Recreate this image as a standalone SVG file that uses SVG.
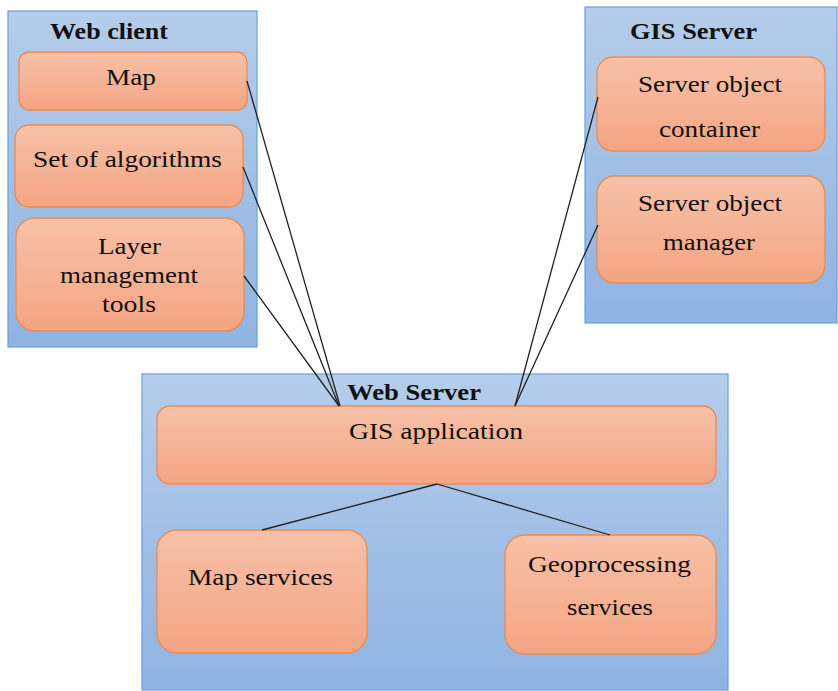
<svg xmlns="http://www.w3.org/2000/svg" width="838" height="691" viewBox="0 0 838 691">
<defs>
<linearGradient id="gb" x1="0" y1="0" x2="0" y2="1"><stop offset="0" stop-color="#b5cdea"/><stop offset="1" stop-color="#8fb3e2"/></linearGradient>
<linearGradient id="go" x1="0" y1="0" x2="0" y2="1"><stop offset="0" stop-color="#f7c1a8"/><stop offset="1" stop-color="#f4a583"/></linearGradient>
</defs>
<style>
.c{fill:url(#gb);stroke:#6d9edb;stroke-width:1.2}
.b{fill:url(#go);stroke:#ee8a4f;stroke-width:1.3}
text{font-family:"Liberation Serif","Times New Roman",serif;font-size:23px;fill:#111;text-anchor:middle}
.h{font-weight:bold}
.l{stroke:#222;stroke-width:1.3;fill:none}
</style>
<g id="web-client">
<rect class="c" x="8" y="11" width="249" height="336"/>
<text class="h" x="109" y="39" textLength="118" lengthAdjust="spacingAndGlyphs">Web client</text>
</g>
<g id="gis-server">
<rect class="c" x="585" y="7" width="252" height="316"/>
<text class="h" x="693.5" y="39" textLength="127" lengthAdjust="spacingAndGlyphs">GIS Server</text>
</g>
<g id="web-server">
<rect class="c" x="142" y="374" width="586" height="316"/>
<text class="h" x="414" y="400" textLength="134" lengthAdjust="spacingAndGlyphs">Web Server</text>
</g>
<g id="map">
<rect class="b" x="19" y="52" width="228" height="58" rx="10"/>
<text x="131" y="85" textLength="50" lengthAdjust="spacingAndGlyphs">Map</text>
</g>
<g id="set-of-algorithms">
<rect class="b" x="15" y="125" width="228" height="82" rx="14"/>
<text x="127.5" y="167" textLength="189" lengthAdjust="spacingAndGlyphs">Set of algorithms</text>
</g>
<g id="layer-management-tools">
<rect class="b" x="16" y="218" width="228" height="113" rx="19"/>
<text x="129.5" y="254" textLength="63" lengthAdjust="spacingAndGlyphs">Layer</text>
<text x="129" y="283" textLength="138" lengthAdjust="spacingAndGlyphs">management</text>
<text x="129" y="312" textLength="54" lengthAdjust="spacingAndGlyphs">tools</text>
</g>
<g id="server-object-container">
<rect class="b" x="597" y="57" width="228" height="94" rx="16"/>
<text x="710" y="92" textLength="144" lengthAdjust="spacingAndGlyphs">Server object</text>
<text x="709.5" y="137" textLength="101" lengthAdjust="spacingAndGlyphs">container</text>
</g>
<g id="server-object-manager">
<rect class="b" x="597" y="176" width="228" height="107" rx="18"/>
<text x="710" y="211" textLength="144" lengthAdjust="spacingAndGlyphs">Server object</text>
<text x="709" y="250" textLength="92" lengthAdjust="spacingAndGlyphs">manager</text>
</g>
<g id="gis-application">
<rect class="b" x="157" y="406" width="559" height="78" rx="13"/>
<text x="436" y="439" textLength="174" lengthAdjust="spacingAndGlyphs">GIS application</text>
</g>
<g id="map-services">
<rect class="b" x="157" y="530" width="210" height="123" rx="20"/>
<text x="260.5" y="585" textLength="145" lengthAdjust="spacingAndGlyphs">Map services</text>
</g>
<g id="geoprocessing-services">
<rect class="b" x="505" y="535" width="211" height="119" rx="20"/>
<text x="609.5" y="572" textLength="163" lengthAdjust="spacingAndGlyphs">Geoprocessing</text>
<text x="610" y="615" textLength="86" lengthAdjust="spacingAndGlyphs">services</text>
</g>
<g id="connectors">
<line class="l" x1="247" y1="81" x2="340" y2="406"/>
<line class="l" x1="243" y1="167" x2="339" y2="406"/>
<line class="l" x1="244" y1="276" x2="339" y2="406"/>
<line class="l" x1="598" y1="97" x2="515" y2="406"/>
<line class="l" x1="598" y1="225" x2="515" y2="406"/>
<line class="l" x1="437" y1="484" x2="262" y2="530"/>
<line class="l" x1="437" y1="484" x2="610" y2="535"/>
</g>
</svg>
